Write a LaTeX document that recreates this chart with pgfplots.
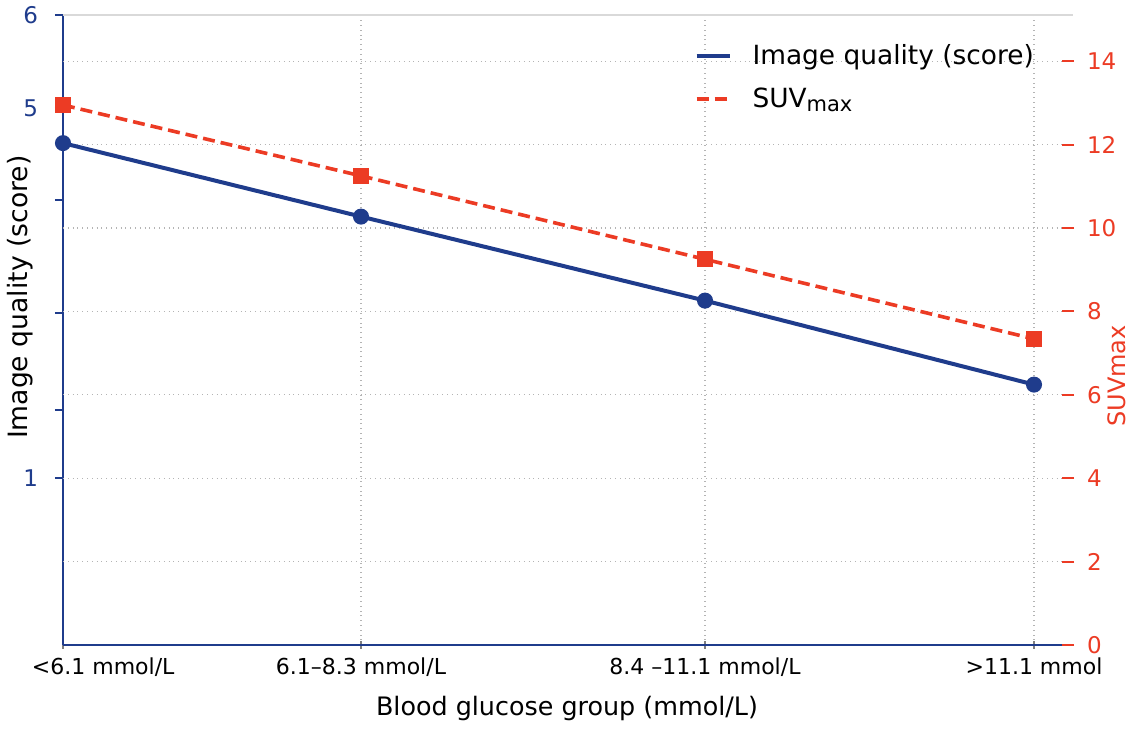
\documentclass[border=0pt]{standalone}
\usepackage{fontspec}
\setmainfont{DejaVu Sans}
\usepackage{pgfplots}
\pgfplotsset{compat=1.18}
\definecolor{navy}{RGB}{31,60,140}
\definecolor{sred}{RGB}{236,59,36}
\definecolor{gridc}{RGB}{180,180,180}
\begin{document}
\begin{tikzpicture}
\begin{axis}[
  name=ax,
  scale only axis, width=502.5pt, height=315pt,
  xmin=0, xmax=1005, ymin=0, ymax=6,
  axis x line*=bottom, axis y line*=left,
  axis line style={navy, line width=0.9pt},
  /pgf/number format/assume math mode=true,
  xtick={0,298,642,971},
  xticklabels={{\rlap{\hspace{-15.5pt}<6.1 mmol/L}}, {6.1–8.3 mmol/L}, {8.4 –11.1 mmol/L}, {>11.1 mmol}},
  xticklabel style={font=\fontsize{11}{13}\selectfont, black, yshift=-1pt},
  x tick style={gray, line width=0.6pt},
  xtick align=center,
  ytick={6,5.114,4.238,3.162,2.238,1.590},
  yticklabels={6,5,,,,1},
  yticklabel style={font=\fontsize{11.5}{13}\selectfont, navy, xshift=-5pt},
  y tick style={navy, line width=0.8pt},
  ytick align=outside,
  major tick length=4pt,
  xmajorgrids,
  grid style={gridc, dotted, line width=0.6pt},
  extra y ticks={0.794,1.589,2.383,3.177,3.971,4.766,5.56},
  extra y tick labels={},
  extra y tick style={ymajorgrids=true, major tick length=0pt},
  ylabel={Image quality (score)},
  ylabel style={at={(axis description cs:-0.0428,0.552)}, anchor=center, font=\fontsize{13.3}{15}\selectfont, black},
  xlabel={Blood glucose group (mmol/L)},
  xlabel style={at={(axis description cs:0.5015,-0.1)}, anchor=center, font=\fontsize{12.7}{15}\selectfont, black},
  clip=false,
]
\draw[gray!30, line width=0.6pt] (rel axis cs:0,1) -- (rel axis cs:1.005,1);
\addplot[navy, line width=2pt, mark=*, mark size=3pt] coordinates {(0,4.78) (298,4.08) (642,3.28) (971,2.48)};
\end{axis}
\begin{axis}[
  scale only axis, width=502.5pt, height=315pt,
  xmin=0, xmax=1005, ymin=0, ymax=15.108,
  axis x line=none, axis y line*=right,
  y axis line style={draw=none},
  /pgf/number format/assume math mode=true,
  ytick={0,2,4,6,8,10,12,14},
  yticklabel style={font=\fontsize{11.5}{13}\selectfont, sred, xshift=3pt},
  y tick style={sred, line width=1pt},
  ytick align=center,
  major tick length=6pt,
  ylabel={SUVmax},
  ylabel style={at={(axis description cs:1.0488,0.427)}, anchor=center, font=\fontsize{12}{14}\selectfont, sred},
  legend style={draw=none, fill=none, at={(axis description cs:0.622,0.966)}, anchor=north west,
    font=\fontsize{13.2}{15}\selectfont, row sep=6pt, column sep=8.5pt, cells={anchor=west}},
  legend image code/.code={\draw[#1] (0pt,0pt) -- (16.5pt,0pt);},
  legend entries={Image quality (score), {SUV\raisebox{-0.3ex}{\fontsize{10.5}{12}\selectfont max}}},
  clip=false,
]
\addlegendimage{navy, line width=2pt}
\addlegendimage{sred, line width=1.8pt, dash pattern=on 6pt off 3pt}
\addplot[sred, line width=1.8pt, dash pattern=on 6pt off 3pt, mark=square*, mark size=3pt, mark options={solid}, forget plot] coordinates {(0,12.95) (298,11.25) (642,9.25) (971,7.34)};
\end{axis}
\pgfresetboundingbox
\path[use as bounding box] ([shift={(-31.5pt,-43.5pt)}]ax.south west) rectangle ([shift={(535pt,322.5pt)}]ax.south west);
\end{tikzpicture}
\end{document}
